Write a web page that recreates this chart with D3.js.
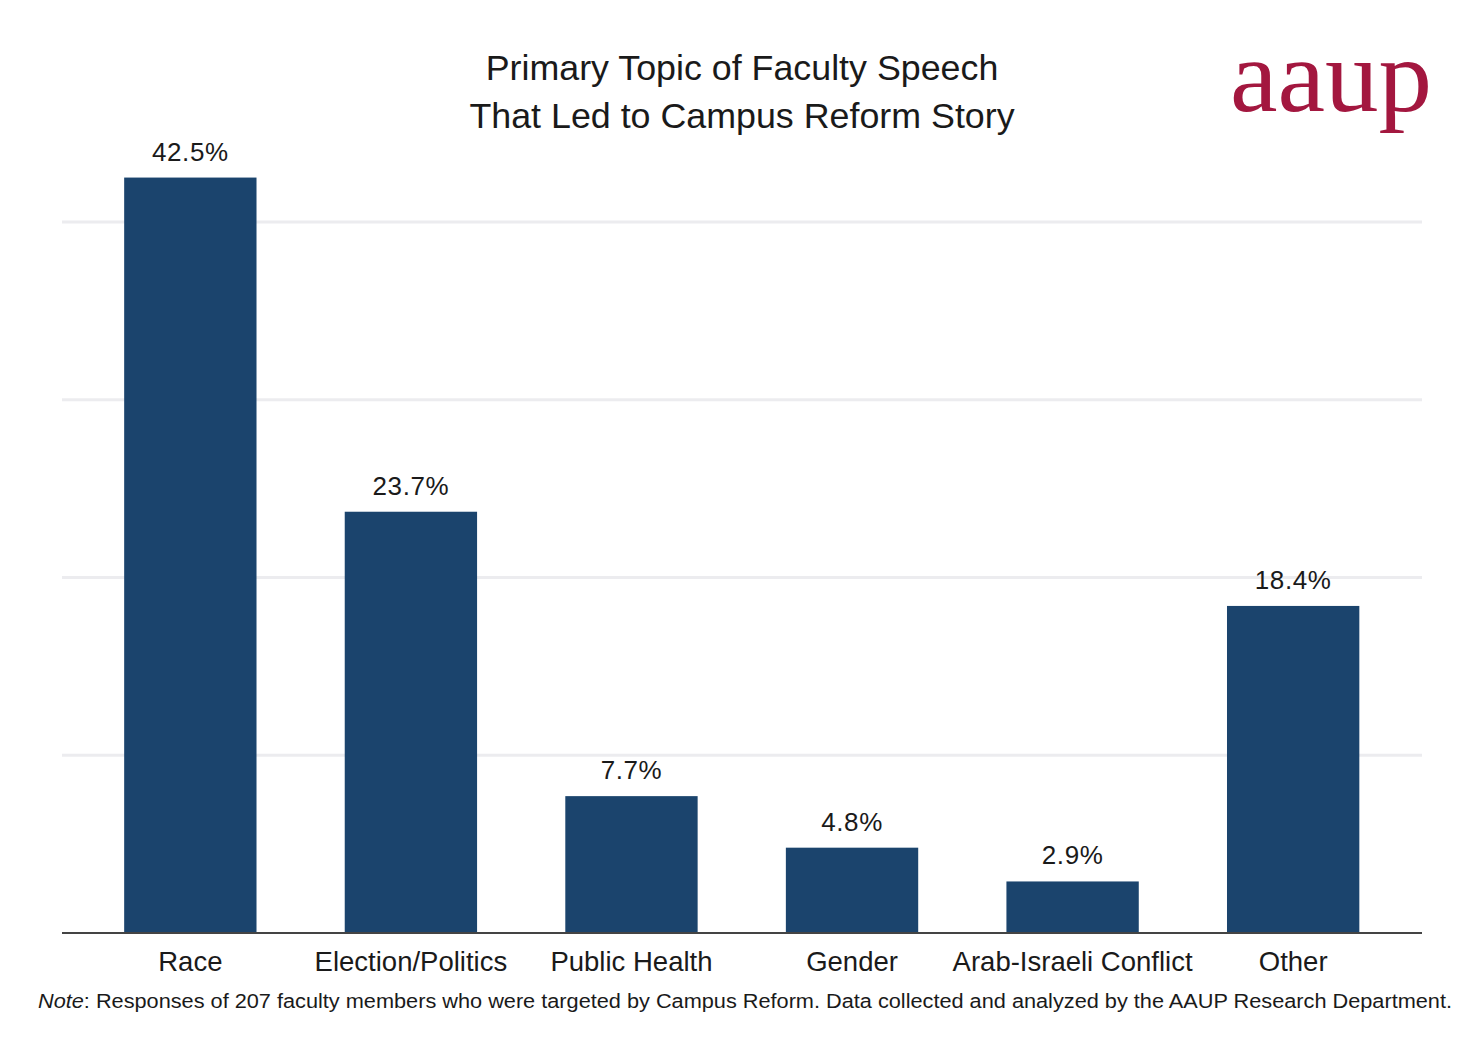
<!DOCTYPE html>
<html>
<head>
<meta charset="utf-8">
<script src="https://cdn.jsdelivr.net/npm/d3@7"></script>
<style>
  html, body { margin: 0; padding: 0; background: #fff; }
  #figure { width: 1465px; height: 1049px; }
  text { font-family: "Liberation Sans", Arial, sans-serif; fill: #1a1a1a; }
</style>
</head>
<body>
<div id="figure"></div>
<script>
const categories = ["Race", "Election/Politics", "Public Health", "Gender", "Arab-Israeli Conflict", "Other"];
const values = [42.5, 23.7, 7.7, 4.8, 2.9, 18.4];
const gridTicks = [10, 20, 30, 40];
const titleLines = ["Primary Topic of Faculty Speech", "That Led to Campus Reform Story"];

document.addEventListener("DOMContentLoaded", () => {
  const W = 1465, H = 1049;
  const plotLeft = 62, plotRight = 1422, baseY = 933;

  const svg = d3.select("#figure").append("svg")
    .attr("width", W).attr("height", H);

  const x = d3.scaleBand()
    .domain(categories)
    .range([58, 1425.5])
    .paddingInner(0.4)
    .paddingOuter(0.3);

  const y = d3.scaleLinear()
    .domain([0, 10])
    .range([baseY, baseY - 177.75]);

  // gridlines
  svg.append("g")
    .selectAll("line")
    .data(gridTicks)
    .join("line")
    .attr("x1", plotLeft).attr("x2", plotRight)
    .attr("y1", d => y(d)).attr("y2", d => y(d))
    .attr("stroke", "#ececef")
    .attr("stroke-width", 3);

  // bars
  svg.append("g")
    .selectAll("rect")
    .data(values)
    .join("rect")
    .attr("x", (d, i) => x(categories[i]))
    .attr("y", d => y(d))
    .attr("width", x.bandwidth())
    .attr("height", d => baseY - y(d))
    .attr("fill", "#1b446d");

  // value labels
  svg.append("g")
    .selectAll("text")
    .data(values)
    .join("text")
    .attr("x", (d, i) => x(categories[i]) + x.bandwidth() / 2)
    .attr("y", d => y(d) - 17)
    .attr("text-anchor", "middle")
    .style("font-size", "26px")
    .style("letter-spacing", "0.6px")
    .text(d => d.toFixed(1) + "%");

  // axis line
  svg.append("line")
    .attr("x1", plotLeft).attr("x2", plotRight)
    .attr("y1", baseY).attr("y2", baseY)
    .attr("stroke", "#444")
    .attr("stroke-width", 2);

  // category labels
  svg.append("g")
    .selectAll("text")
    .data(categories)
    .join("text")
    .attr("x", d => x(d) + x.bandwidth() / 2)
    .attr("y", 971)
    .attr("text-anchor", "middle")
    .style("font-size", "27.5px")
    .text(d => d);

  // title
  svg.append("g")
    .selectAll("text")
    .data(titleLines)
    .join("text")
    .attr("x", 742)
    .attr("y", (d, i) => 80 + i * 48)
    .attr("text-anchor", "middle")
    .style("font-size", "35.8px")
    .text(d => d);

  // logo
  svg.append("text")
    .attr("x", 1230)
    .attr("y", 111)
    .attr("textLength", 202)
    .attr("lengthAdjust", "spacingAndGlyphs")
    .style("font-family", "'Liberation Serif', 'DejaVu Serif', serif")
    .style("font-size", "104px")
    .style("fill", "#a3173f")
    .text("aaup");

  // note
  const note = svg.append("text")
    .attr("x", 38)
    .attr("y", 1008)
    .attr("textLength", 1414)
    .attr("lengthAdjust", "spacingAndGlyphs")
    .style("font-size", "20px");
  note.append("tspan").style("font-style", "italic").text("Note");
  note.append("tspan").text(": Responses of 207 faculty members who were targeted by Campus Reform. Data collected and analyzed by the AAUP Research Department.");
});
</script>
</body>
</html>
